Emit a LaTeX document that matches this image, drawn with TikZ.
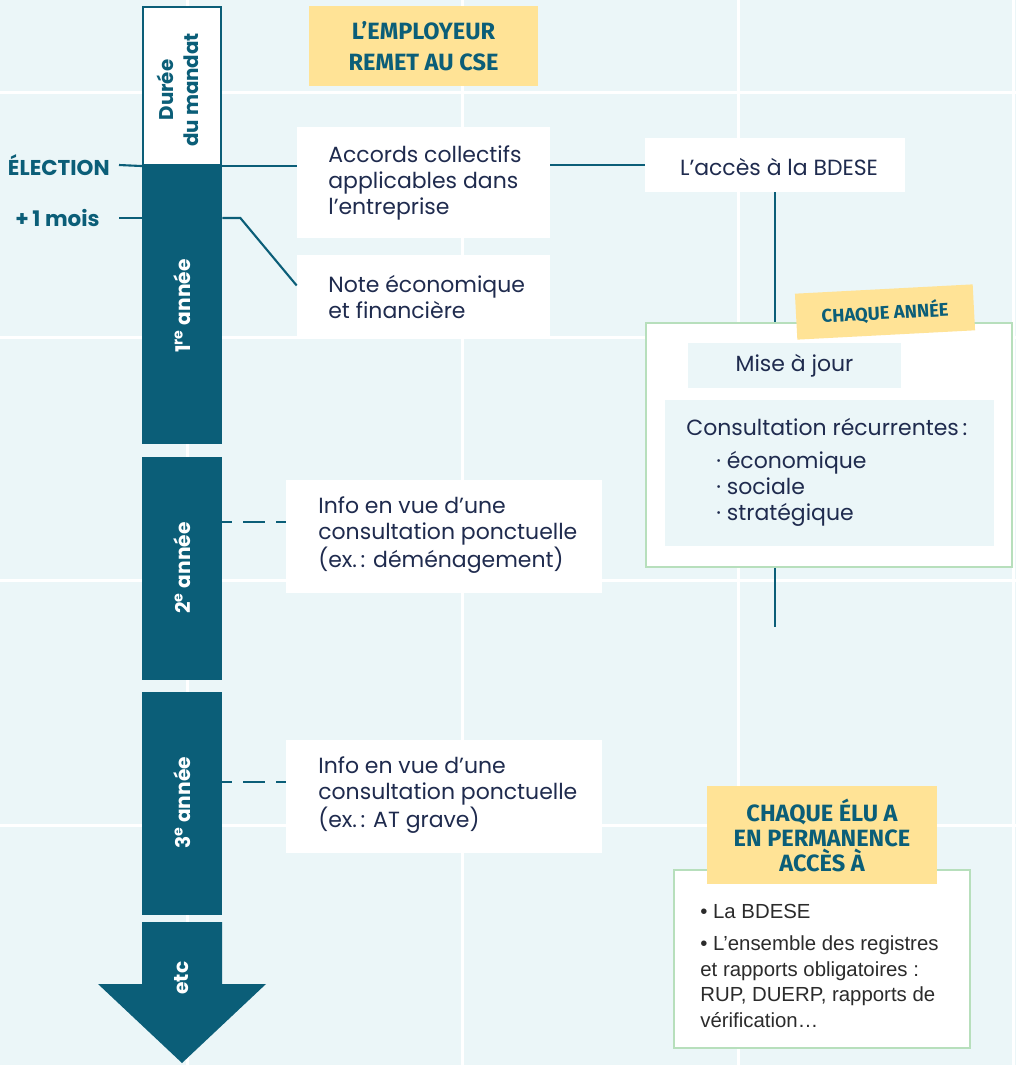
\documentclass[tikz,border=0pt]{standalone}
\usepackage{fontspec}
\setmainfont{Poppins}
\newfontfamily\tagfont{Fira Sans}
\newfontfamily\listfont{Liberation Sans}

\definecolor{fondcyan}{HTML}{EBF6F8}
\definecolor{petrole}{HTML}{0B5E78}
\definecolor{jaune}{HTML}{FFE396}
\definecolor{vert}{HTML}{B7DFBC}
\definecolor{encre}{HTML}{1F2B4E}
\definecolor{gris}{HTML}{2B2B2B}

\tikzset{
  grille/.style={draw=white, line width=0.06cm},
  trait/.style={draw=petrole, line width=1.2pt},
  tirets/.style={trait, dash pattern={on 0.44cm off 0.22cm}, dash phase=0.24cm},
  annee/.style={shape=rectangle, fill=petrole, inner sep=0, minimum width=1.6cm},
  anneelbl/.style={rotate=90, text=white, font=\fontsize{11.5}{14}\selectfont\bfseries},
  datelbl/.style={text=petrole, font=\fontsize{12.2}{14}\selectfont\bfseries, inner ysep=0},
  boite/.style={shape=rectangle, fill=white, inner sep=0},
  texte/.style={anchor=west, align=left, inner sep=0, text=encre,
    font=\fontsize{12.5}{14.8}\selectfont},
  etiquette/.style={shape=rectangle, fill=jaune, inner sep=0, text=petrole, align=center,
    font=\tagfont\bfseries\fontsize{13.4}{17.6}\selectfont},
  cadrevert/.style={shape=rectangle, fill=white, draw=vert, line width=1.1pt, inner sep=0},
  pastille/.style={shape=rectangle, fill=fondcyan, inner sep=0, text=encre,
    font=\fontsize{12.5}{14.8}\selectfont}
}

\begin{document}
\begin{tikzpicture}[x=0.02cm, y=-0.02cm]
  % Fond et grille:
  \useasboundingbox (0,0) rectangle (1016,1065);
  \fill[fondcyan] (0,0) rectangle (1016,1065);
  \foreach \gx in {187,462,738,1013} \draw[grille] (\gx,0) -- (\gx,1065);
  \foreach \gy in {92,337,580,825} \draw[grille] (0,\gy) -- (1016,\gy);

  % Frise du mandat:
  \node[shape=rectangle, draw=petrole, line width=1.2pt, fill=white, inner sep=0, minimum width=1.56cm, minimum height=3.16cm] (mandat) at (182,86) {};
  \node[rotate=90, align=center, text=petrole, font=\fontsize{11.3}{14}\selectfont\bfseries] (mandatlbl) at (178,90) {Durée\\du mandat};
  \node[annee, minimum height=5.58cm] (an1) at (182,304.5) {};
  \node[anneelbl] (an1lbl) at (182,306) {1\textsuperscript{re} année};
  \node[annee, minimum height=4.46cm] (an2) at (182,568.5) {};
  \node[anneelbl] (an2lbl) at (182,568) {2\textsuperscript{e} année};
  \node[annee, minimum height=4.46cm] (an3) at (182,803.5) {};
  \node[anneelbl] (an3lbl) at (182,803) {3\textsuperscript{e} année};
  \fill[petrole] (142,922) -- (222,922) -- (222,984) -- (266,984) -- (182,1063) -- (98,984) -- (142,984) -- cycle;
  \node[anneelbl] (etclbl) at (182,978) {etc};

  % Dates:
  \node[datelbl, anchor=east, inner xsep=0.18cm] (election) at (119,165) {ÉLECTION};
  \node[datelbl, anchor=east, inner xsep=0.38cm] (mois) at (119,218) {+\,1 mois};

  % L'employeur remet au CSE:
  \node[etiquette, minimum width=4.58cm, minimum height=1.6cm] (employeur) at (423.5,46) {L’EMPLOYEUR\\REMET AU CSE};
  \node[boite, minimum width=5.06cm, minimum height=2.22cm] (accords) at (423.5,182.5) {};
  \node[texte] (accordstxt) at (328,183) {Accords collectifs\\applicables dans\\l’entreprise};
  \node[boite, minimum width=5.06cm, minimum height=1.62cm] (note) at (423.5,295.5) {};
  \node[texte] (notetxt) at (328,297) {Note économique\\et financière};
  \node[boite, minimum width=5.2cm, minimum height=1.08cm] (acces) at (775,165) {};
  \node[texte, anchor=center] (accestxt) at (779,167) {L’accès à la BDESE};
  \node[boite, minimum width=6.32cm, minimum height=2.26cm] (info1) at (444,536.5) {};
  \node[texte] (info1txt) at (318,535) {Info en vue d’une\\consultation ponctuelle\\(ex.\,: déménagement)};
  \node[boite, minimum width=6.32cm, minimum height=2.26cm] (info2) at (444,796.5) {};
  \node[texte] (info2txt) at (318,795) {Info en vue d’une\\consultation ponctuelle\\(ex.\,: AT grave)};

  % Chaque annee:
  \node[cadrevert, minimum width=7.32cm, minimum height=4.88cm] (chaque) at (829,445) {};
  \node[etiquette, rotate=3, minimum width=3.56cm, minimum height=0.92cm, font=\tagfont\bfseries\fontsize{10.5}{12}\selectfont] (chaquean) at (885,312) {CHAQUE ANNÉE};
  \node[pastille, minimum width=4.26cm, minimum height=0.9cm] (majour) at (794.5,365.5) {Mise à jour};
  \node[pastille, minimum width=6.58cm, minimum height=2.92cm] (consult) at (829.5,473) {};
  \node[texte] (consulttxt) at (686,472) {Consultation récurrentes\,:\\[4pt]
    \hspace*{0.6cm}· économique\\
    \hspace*{0.6cm}· sociale\\
    \hspace*{0.6cm}· stratégique};

  % Acces permanent des elus:
  \node[cadrevert, minimum width=5.92cm, minimum height=3.56cm] (accelu) at (822,959) {};
  \node[texte, text=gris, font=\listfont\fontsize{11.6}{14.7}\selectfont] (accelutxt) at (700,966) {• La BDESE\\[3.4pt]• L’ensemble des registres\\et rapports obligatoires :\\RUP, DUERP, rapports de\\vérification…};
  \node[etiquette, minimum width=4.6cm, minimum height=1.96cm, font=\tagfont\bfseries\fontsize{13.4}{14.2}\selectfont] (elu) at (822,835) {CHAQUE ÉLU A\\EN PERMANENCE\\ACCÈS À};

  % Liaisons:
  \coordinate (d1) at ([yshift=0.29cm]info1.west);
  \coordinate (d2) at ([yshift=0.29cm]info2.west);
  \coordinate (finbdese) at (775,627);
  \draw[trait] (election.east) -- (mandat.south west);
  \draw[trait] (mandat.south east) -- (mandat.south east -| accords.west);
  \draw[trait] (accords.east |- acces.west) -- (acces.west);
  \draw[trait] (mois.east) -- (mois.east -| an1.west);
  \draw[trait] (mois.east -| an1.east) -- ++(18,0) -- ([yshift=0.2cm]note.west);
  \draw[tirets] (d1 -| an2.east) -- (d1);
  \draw[tirets] (d2 -| an3.east) -- (d2);
  \draw[trait] (acces.south) -- (acces.south |- chaque.north);
  \draw[trait] (acces.south |- chaque.south) -- (finbdese);
\end{tikzpicture}
\end{document}
